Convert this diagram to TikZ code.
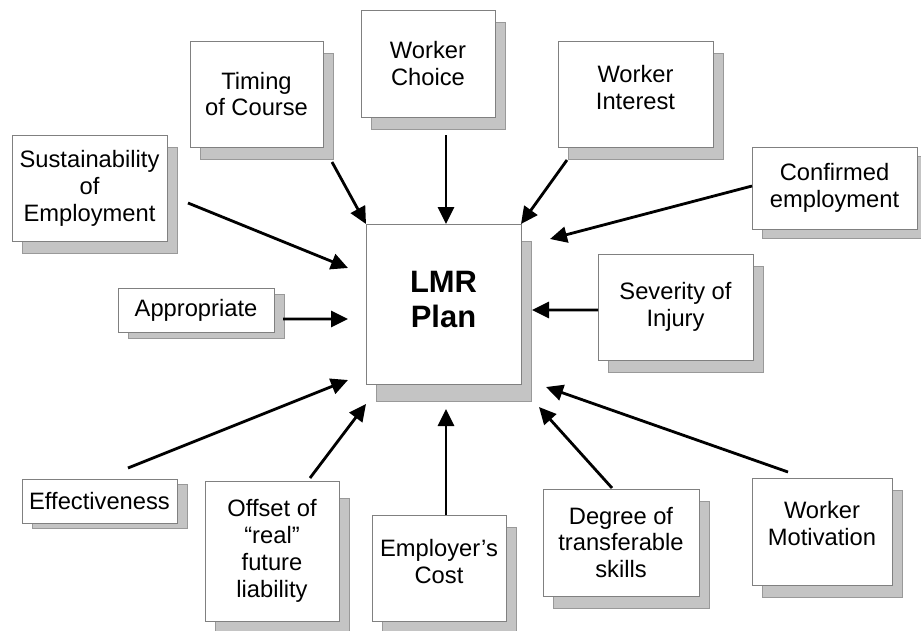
\documentclass[tikz,border=0pt]{standalone}
\usepackage{fontspec}
\setmainfont{Liberation Sans}
\usetikzlibrary{arrows.meta,shadows}
\newcommand{\cardfont}{\fontsize{13.5}{15.3}\selectfont}
\newcommand{\planfont}{\fontsize{17.6}{19.8}\selectfont\bfseries}
\tikzset{
  card/.style={draw=black!50, line width=0.5pt, fill=white, inner sep=0pt, outer sep=0pt,
    align=center, font=\cardfont,
    drop shadow={shadow xshift=0.2cm, shadow yshift=-#1, opacity=1, fill=black!23, draw=black!40, line width=0.5pt}},
  card/.default=0.24cm,
  feed/.style={line width=1.6pt, -{Triangle[length=0.34cm, width=0.32cm]}},
}

\begin{document}
\begin{tikzpicture}
\useasboundingbox (0,0) rectangle (18.42,12.6);

% the factors
\node[card, minimum width=2.68cm, minimum height=2.14cm] (choice) at (8.56,11.33) {Worker\\Choice};
\node[card, minimum width=2.66cm, minimum height=2.12cm] (timing) at (5.13,10.72) {Timing\\of Course};
\node[card, text depth=0.28cm, minimum width=3.10cm, minimum height=2.12cm] (interest) at (12.71,10.72) {Worker\\Interest};
\node[card, minimum width=3.10cm, minimum height=2.12cm] (sustain) at (1.79,8.84) {Sustainability\\of\\Employment};
\node[card=0.18cm, minimum width=3.30cm, minimum height=1.64cm] (confirmed) at (16.69,8.84) {Confirmed\\employment};
\node[card=0.12cm, minimum width=3.12cm, minimum height=0.88cm] (approp) at (3.92,6.40) {Appropriate};
\node[card, minimum width=3.10cm, minimum height=2.12cm] (severity) at (13.51,6.46) {Severity of\\Injury};
\node[card=0.10cm, minimum width=3.10cm, minimum height=0.88cm] (effect) at (1.99,2.58) {Effectiveness};
\node[card=0.34cm, minimum width=2.68cm, minimum height=2.80cm] (offset) at (5.44,1.58) {Offset of\\“real”\\future\\liability};
\node[card, text depth=0.28cm, minimum width=2.68cm, minimum height=2.12cm] (cost) at (8.78,1.24) {Employer’s\\Cost};
\node[card, minimum width=3.12cm, minimum height=2.14cm] (degree) at (12.42,1.75) {Degree of\\transferable\\skills};
\node[card, text depth=0.32cm, minimum width=2.80cm, minimum height=2.14cm] (motiv) at (16.44,1.97) {Worker\\Motivation};

% the plan
\node[card=0.34cm, font=\planfont, text depth=0.2cm, minimum width=3.10cm, minimum height=3.20cm] (plan) at (8.87,6.52) {LMR\\Plan};

% arrow ends round the plan
\coordinate (inSus) at (6.96,7.24);
\coordinate (inApp) at (6.96,6.22);
\coordinate (inConf) at (11.00,7.82);
\coordinate (inSev) at (10.64,6.40);
\coordinate (inEff) at (6.96,5.00);
\coordinate (inOff) at (7.32,4.52);
\coordinate (inCost) at (8.92,4.42);
\coordinate (inDeg) at (10.78,4.46);
\coordinate (inMot) at (10.92,4.86);

\draw[feed] ([xshift=0.36cm,yshift=-0.36cm]choice.south) -- ([xshift=0.05cm]plan.north);
\draw[feed] ([xshift=0.18cm,yshift=-0.30cm]timing.south east) -- (plan.north west);
\draw[feed] ([xshift=0.18cm,yshift=-0.26cm]interest.south west) -- (plan.north east);
\draw[feed] ([xshift=0.42cm,yshift=-0.30cm]sustain.east) -- (inSus);
\draw[feed] ([xshift=0.18cm,yshift=-0.18cm]approp.east) -- (inApp);
\draw[feed] ([yshift=0.04cm]confirmed.west) -- (inConf);
\draw[feed] ([yshift=-0.06cm]severity.west) -- (inSev);
\draw[feed] ([xshift=0.57cm,yshift=0.22cm]effect.north) -- (inEff);
\draw[feed] ([xshift=0.76cm,yshift=0.06cm]offset.north) -- (inOff);
\draw[feed] ([xshift=0.14cm]cost.north) -- (inCost);
\draw[feed] ([xshift=-0.18cm,yshift=0.02cm]degree.north) -- (inDeg);
\draw[feed] ([xshift=-0.68cm,yshift=0.12cm]motiv.north) -- (inMot);

\end{tikzpicture}
\end{document}
